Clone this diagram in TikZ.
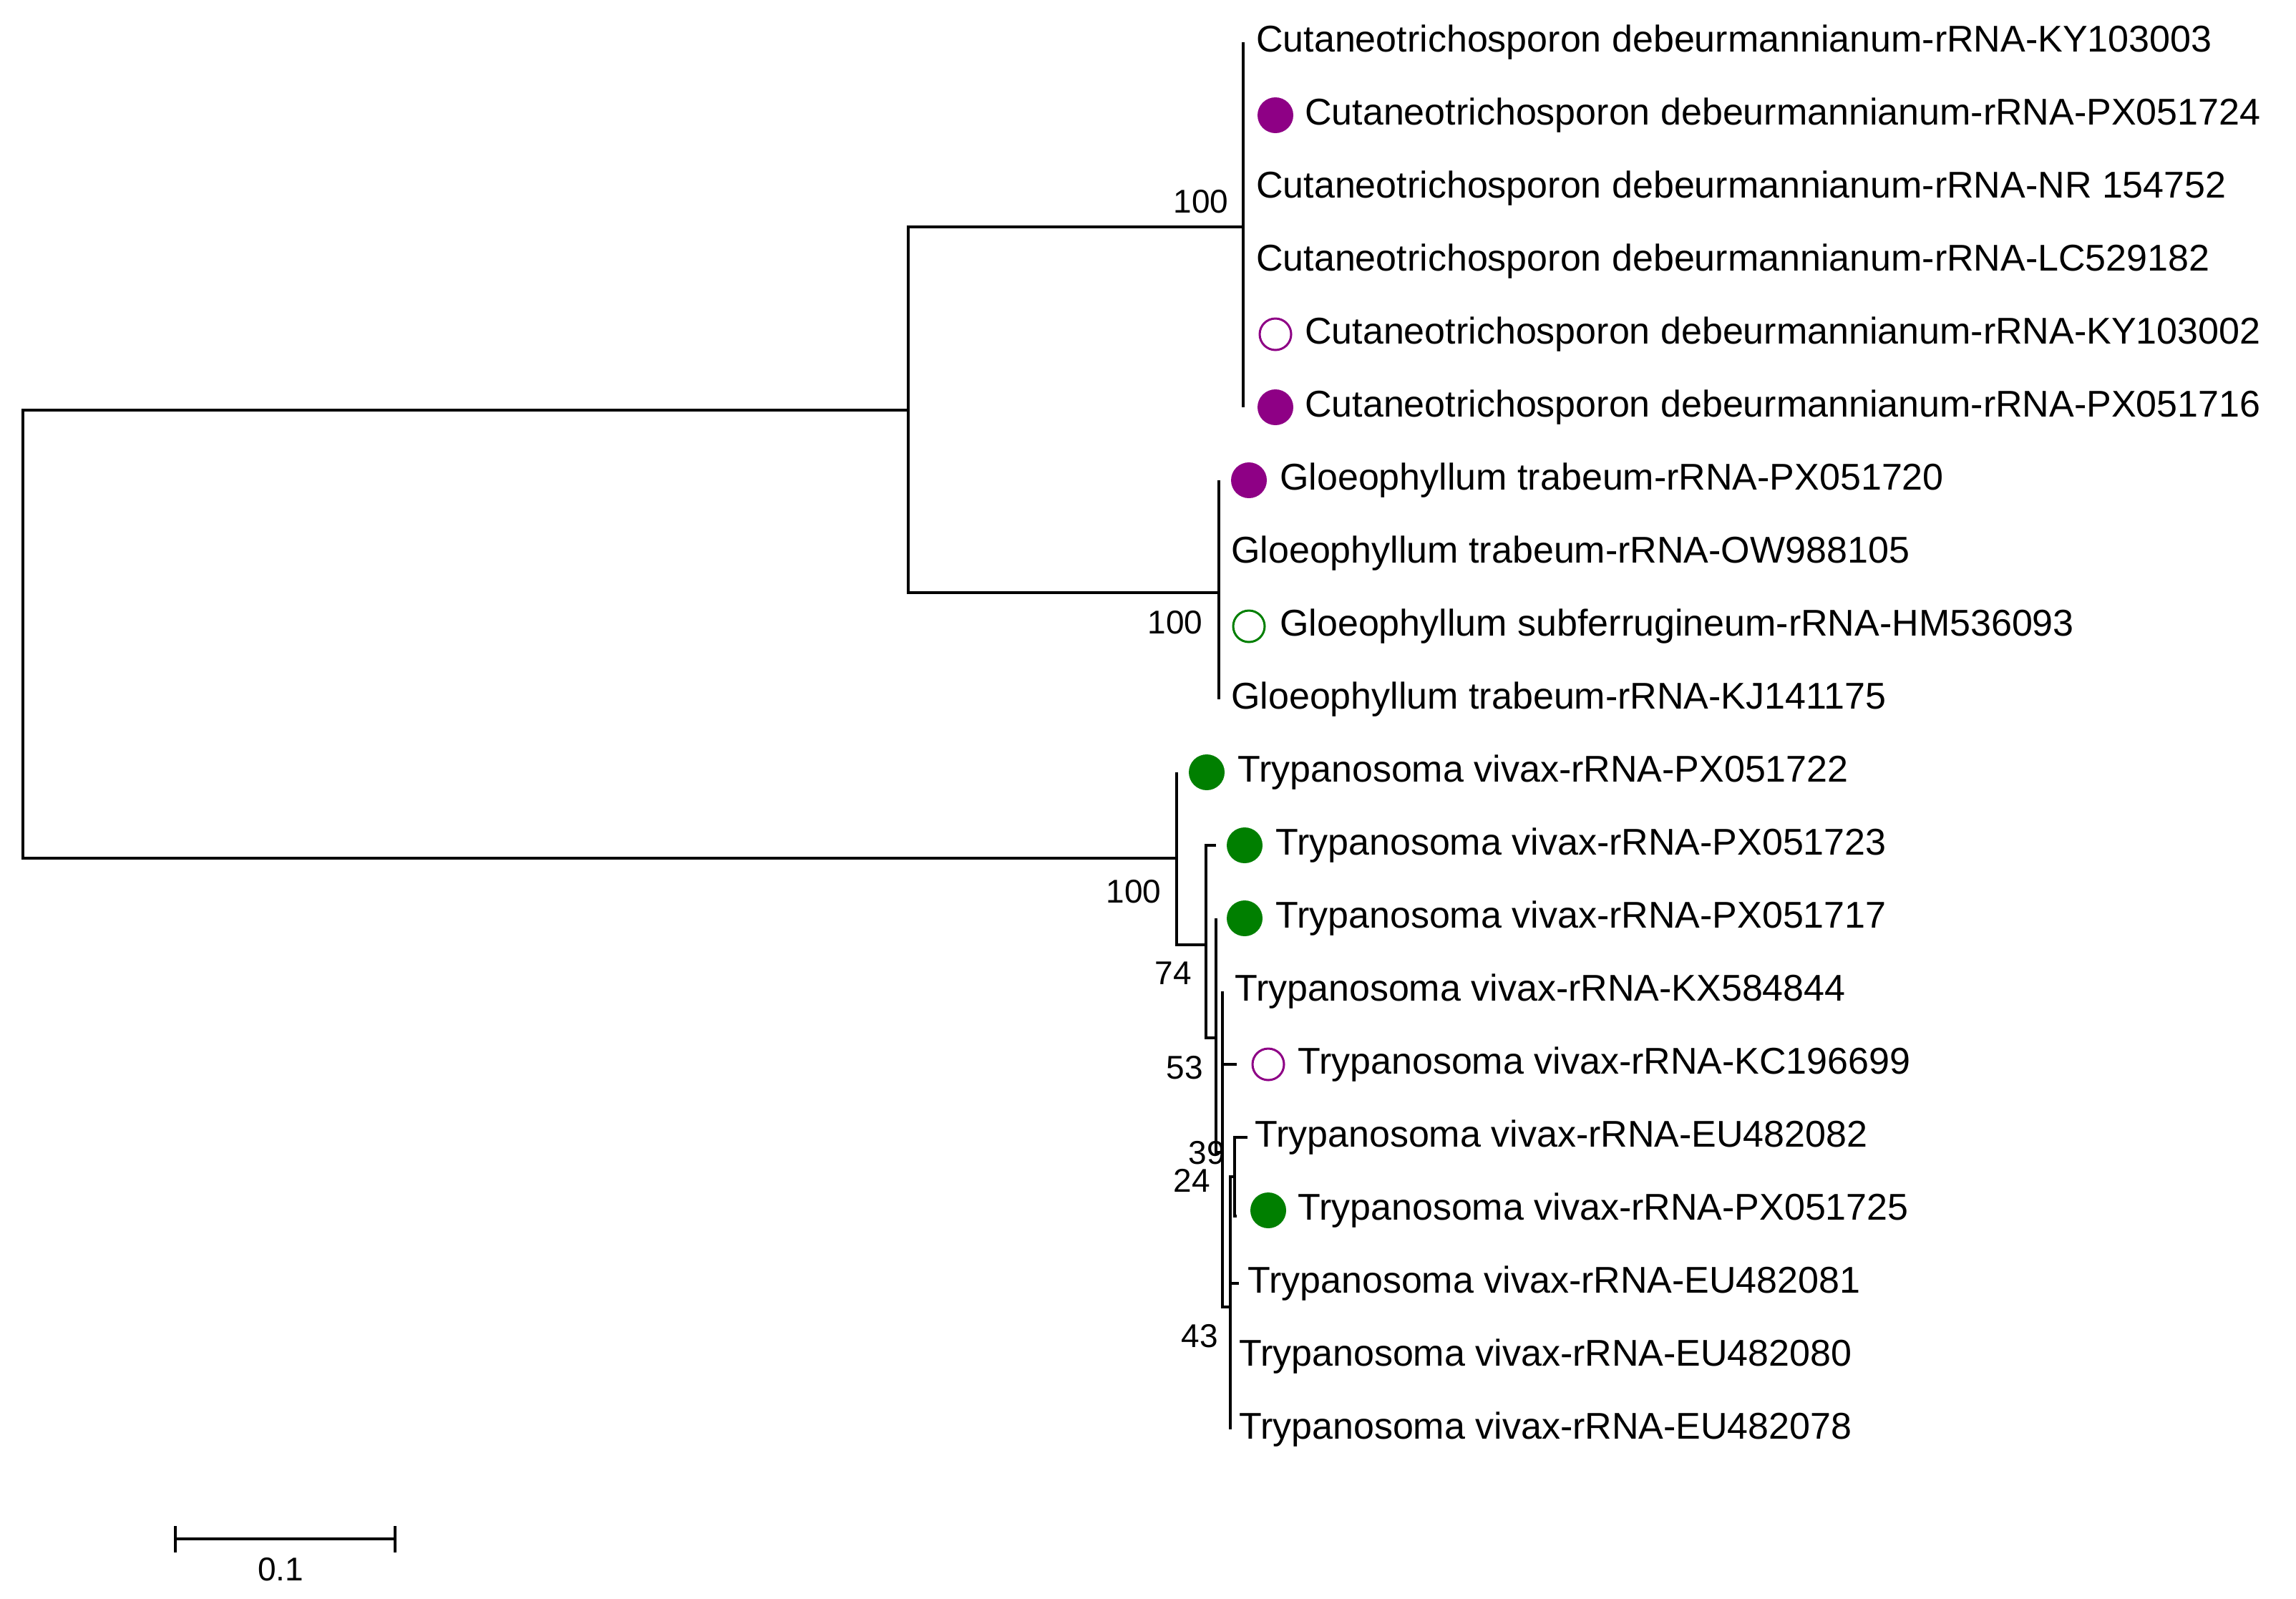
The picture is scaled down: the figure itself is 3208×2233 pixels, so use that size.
\documentclass[tikz,border=0pt]{standalone}
\usepackage{fontspec}
\setmainfont{Liberation Sans}
\definecolor{pur}{HTML}{8E0085}
\definecolor{grn}{HTML}{007F00}
\begin{document}
\begin{tikzpicture}[x=1pt,y=-1pt,
  br/.style={line width=4.5pt},
  lab/.style={anchor=west,inner sep=0pt,font=\fontsize{52}{56}\selectfont},
  bs/.style={inner sep=0pt,font=\fontsize{46}{50}\selectfont},
  fdot/.style={circle,fill=#1,inner sep=0pt,minimum size=50pt},
  odot/.style={circle,draw=#1,line width=3pt,inner sep=0pt,minimum size=44pt}]
\useasboundingbox (0,0) rectangle (3208,2233);
% tree coordinates
\coordinate (root) at (32,1199);
\coordinate (A) at (1269,573);
\coordinate (C) at (1737,317);
\coordinate (G) at (1703,828);
\coordinate (T) at (1644,1199);
\coordinate (n74) at (1685,1320);
\coordinate (n53) at (1699,1450);
\coordinate (n39) at (1708,1610);
\coordinate (n43) at (1719,1826);
\coordinate (n24) at (1725,1644);
% root
\draw[br] (A) -- (A-|root) -- (T-|root) -- (T);
\draw[br] (C) -- (C-|A) -- (G-|A) -- (G);
% Cutaneotrichosporon
\draw[br] (1737,59) -- (1737,569);
% Gloeophyllum
\draw[br] (1703,671) -- (1703,977);
% Trypanosoma
\draw[br] (1644,1079) -- (1644,1320) -- (n74);
\draw[br] (1699,1181) -- (1685,1181) -- (1685,1450) -- (n53);
\draw[br] (1699,1283) -- (1699,1610) -- (n39);
\draw[br] (1708,1385) -- (1708,1826) -- (n43);
\draw[br] (1708,1487) -- (1728,1487);
\draw[br] (1719,1997) -- (1719,1644) -- (n24);
\draw[br] (1719,1793) -- (1731,1793);
\draw[br] (1743,1589) -- (1725,1589) -- (1725,1699) -- (1728,1699);
% leaves: Cutaneotrichosporon
\node[lab] (l0) at (1755,59) {Cutaneotrichosporon debeurmannianum-rRNA-KY103003};
\node[fdot=pur] (d1) at (1782,161) {};
\node[lab] (l1) at (1823,161) {Cutaneotrichosporon debeurmannianum-rRNA-PX051724};
\node[lab] (l2) at (1755,263) {Cutaneotrichosporon debeurmannianum-rRNA-NR 154752};
\node[lab] (l3) at (1755,365) {Cutaneotrichosporon debeurmannianum-rRNA-LC529182};
\node[odot=pur] (d4) at (1782,467) {};
\node[lab] (l4) at (1823,467) {Cutaneotrichosporon debeurmannianum-rRNA-KY103002};
\node[fdot=pur] (d5) at (1782,569) {};
\node[lab] (l5) at (1823,569) {Cutaneotrichosporon debeurmannianum-rRNA-PX051716};
% Gloeophyllum
\node[fdot=pur] (d6) at (1745,671) {};
\node[lab] (l6) at (1788,671) {Gloeophyllum trabeum-rRNA-PX051720};
\node[lab] (l7) at (1720,773) {Gloeophyllum trabeum-rRNA-OW988105};
\node[odot=grn] (d8) at (1745,875) {};
\node[lab] (l8) at (1788,875) {Gloeophyllum subferrugineum-rRNA-HM536093};
\node[lab] (l9) at (1720,977) {Gloeophyllum trabeum-rRNA-KJ141175};
% Trypanosoma
\node[fdot=grn] (d10) at (1686,1079) {};
\node[lab] (l10) at (1729,1079) {Trypanosoma vivax-rRNA-PX051722};
\node[fdot=grn] (d11) at (1739,1181) {};
\node[lab] (l11) at (1782,1181) {Trypanosoma vivax-rRNA-PX051723};
\node[fdot=grn] (d12) at (1739,1283) {};
\node[lab] (l12) at (1782,1283) {Trypanosoma vivax-rRNA-PX051717};
\node[lab] (l13) at (1725,1385) {Trypanosoma vivax-rRNA-KX584844};
\node[odot=pur] (d14) at (1772,1487) {};
\node[lab] (l14) at (1813,1487) {Trypanosoma vivax-rRNA-KC196699};
\node[lab] (l15) at (1753,1589) {Trypanosoma vivax-rRNA-EU482082};
\node[fdot=grn] (d16) at (1772,1691) {};
\node[lab] (l16) at (1813,1691) {Trypanosoma vivax-rRNA-PX051725};
\node[lab] (l17) at (1743,1793) {Trypanosoma vivax-rRNA-EU482081};
\node[lab] (l18) at (1731,1895) {Trypanosoma vivax-rRNA-EU482080};
\node[lab] (l19) at (1731,1997) {Trypanosoma vivax-rRNA-EU482078};
% bootstrap values
\node[bs] (b1) at (1678,282) {100};
\node[bs] (b2) at (1642,870) {100};
\node[bs] (b3) at (1584,1246) {100};
\node[bs] (b4) at (1639,1360) {74};
\node[bs] (b5) at (1655,1492) {53};
\node[bs] (b6) at (1686,1611) {39};
\node[bs] (b7) at (1665,1649) {24};
\node[bs] (b8) at (1676,1867) {43};
% scale bar
\coordinate (s1) at (245,2150);
\coordinate (s2) at (552,2150);
\draw[br] (s1) -- (s2);
\draw[br] (245,2132) -- (245,2169);
\draw[br] (552,2132) -- (552,2169);
\node[bs] (sl) at (392,2193) {0.1};
\end{tikzpicture}
\end{document}
